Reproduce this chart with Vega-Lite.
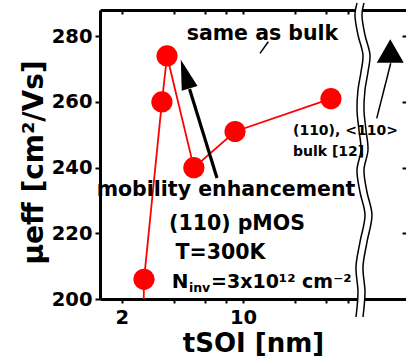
{
  "$schema": "https://vega.github.io/schema/vega-lite/v6.json",
  "width": 306,
  "height": 289,
  "autosize": "none",
  "padding": {"left": 100, "top": 10, "right": 0, "bottom": 62},
  "background": "white",
  "config": {"view": {"stroke": null}, "font": "DejaVu Sans"},
  "datasets": {
    "pts": [
      {"t": 2.64, "mu": 180},
      {"t": 2.69, "mu": 206},
      {"t": 3.41, "mu": 260},
      {"t": 3.65, "mu": 274},
      {"t": 5.21, "mu": 240},
      {"t": 9.0, "mu": 251},
      {"t": 32.1, "mu": 261}
    ],
    "thin": [
      {"x": 13.98, "y": 278.35, "x2": 12.52, "y2": 274.8},
      {"x": 70.9, "y": 271.8, "x2": 58.9, "y2": 255.0}
    ],
    "shaft": [
      {"x": 7.08, "y": 236.84, "x2": 4.92, "y2": 263.94}
    ],
    "head": [{"t": 4.645, "mu": 268.51}],
    "bulk": [{"t": 70.5, "mu": 275.5}],
    "tc": [
      {"t": 12.94, "mu": 278.86, "s": "same as bulk"},
      {"t": 7.98, "mu": 231.36, "s": "mobility enhancement"},
      {"t": 9.23, "mu": 221.0, "s": "(110) pMOS"},
      {"t": 7.42, "mu": 212.09, "s": "T=300K"}
    ],
    "tn": [{"t": 3.88, "mu": 203.25, "s": "N"}],
    "tl": [{"t": 6.54, "mu": 203.25, "s": "=3x10¹² cm⁻²"}],
    "ts": [
      {"t": 19.4, "mu": 249.94, "s": "(110), <110>"},
      {"t": 19.4, "mu": 243.54, "s": "bulk [12]"}
    ],
    "tsub": [{"t": 4.88, "mu": 202.22, "s": "inv"}],
    "brk": [
      {"i": 1, "y": 290.13, "xl": 45.34, "xm": 47.49, "xr": 49.74},
      {"i": 2, "y": 286.48, "xl": 44.15, "xm": 46.25, "xr": 48.44},
      {"i": 3, "y": 280.39, "xl": 45.94, "xm": 48.12, "xr": 50.41},
      {"i": 4, "y": 274.30, "xl": 49.09, "xm": 51.41, "xr": 53.86},
      {"i": 5, "y": 269.12, "xl": 47.80, "xm": 50.07, "xr": 52.46},
      {"i": 6, "y": 263.64, "xl": 45.94, "xm": 48.12, "xr": 50.41},
      {"i": 7, "y": 257.55, "xl": 45.34, "xm": 47.49, "xr": 49.74},
      {"i": 8, "y": 251.46, "xl": 46.55, "xm": 48.76, "xr": 51.08},
      {"i": 9, "y": 245.37, "xl": 47.80, "xm": 50.07, "xr": 52.46},
      {"i": 10, "y": 239.28, "xl": 45.34, "xm": 47.49, "xr": 49.74},
      {"i": 11, "y": 232.58, "xl": 47.17, "xm": 49.41, "xr": 51.76},
      {"i": 12, "y": 225.58, "xl": 50.41, "xm": 52.81, "xr": 55.31},
      {"i": 13, "y": 217.35, "xl": 47.17, "xm": 49.41, "xr": 51.76},
      {"i": 14, "y": 209.74, "xl": 44.74, "xm": 46.86, "xr": 49.09},
      {"i": 15, "y": 202.13, "xl": 45.94, "xm": 48.12, "xr": 50.41},
      {"i": 16, "y": 194.52, "xl": 44.74, "xm": 46.86, "xr": 49.09}
    ]
  },
  "resolve": {"axis": {"x": "independent", "y": "independent"}},
  "layer": [
    {
      "mark": {"type": "rule", "strokeDash": [12, 9], "strokeWidth": 2.5, "color": "black"},
      "encoding": {
        "y": {"datum": 274, "type": "quantitative", "scale": {"domain": [200, 288], "nice": false, "zero": false}, "axis": null}
      }
    },
    {
      "data": {"name": "pts"},
      "mark": {"type": "line", "color": "#ff0000", "strokeWidth": 1.8, "clip": true},
      "encoding": {
        "x": {
          "field": "t", "type": "quantitative",
          "scale": {"type": "log", "domain": [1.5, 86.85], "nice": false},
          "axis": {
            "orient": "bottom", "values": [2, 4, 6, 8, 10, 20, 30, 40],
            "labelExpr": "datum.value == 2 || datum.value == 10 ? format(datum.value, 'd') : ''",
            "labelFont": "DejaVu Sans", "labelFontWeight": "bold", "labelFontSize": 19.5, "labelColor": "black",
            "labelPadding": 5, "labelOverlap": false, "labelFlush": false,
            "tickSize": 4, "tickWidth": 2, "tickColor": "black",
            "domainColor": "black", "domainWidth": 3, "grid": false,
            "title": "tSOI [nm]", "titleFont": "DejaVu Sans", "titleFontWeight": "bold", "titleFontSize": 26,
            "titleColor": "black", "titlePadding": 4
          }
        },
        "y": {
          "field": "mu", "type": "quantitative",
          "scale": {"domain": [200, 288], "nice": false, "zero": false},
          "axis": {
            "orient": "left", "values": [200, 220, 240, 260, 280],
            "labelFont": "DejaVu Sans", "labelFontWeight": "bold", "labelFontSize": 19.5, "labelColor": "black",
            "labelPadding": 3, "labelFlush": false,
            "tickSize": 5, "tickWidth": 2, "tickColor": "black",
            "domainColor": "black", "domainWidth": 3, "grid": false,
            "title": "μeff [cm²/Vs]", "titleFont": "DejaVu Sans", "titleFontWeight": "bold", "titleFontSize": 28,
            "titleColor": "black", "titlePadding": 3, "titleY": 152
          }
        }
      }
    },
    {
      "data": {"name": "pts"},
      "mark": {"type": "circle", "color": "#ff0000", "opacity": 1, "size": 450, "clip": true},
      "encoding": {
        "x": {
          "field": "t", "type": "quantitative",
          "scale": {"type": "log", "domain": [1.5, 86.85], "nice": false},
          "axis": {
            "orient": "top", "values": [2, 4, 6, 8, 10, 20, 30, 40], "labels": false,
            "tickSize": -4, "tickWidth": 2, "tickColor": "black",
            "domainColor": "black", "domainWidth": 3, "grid": false, "title": null
          }
        },
        "y": {
          "field": "mu", "type": "quantitative",
          "scale": {"domain": [200, 288], "nice": false, "zero": false},
          "axis": {
            "orient": "right", "values": [200, 220, 240, 260, 280], "labels": false, "domain": false,
            "tickSize": 4, "tickWidth": 2, "tickColor": "black", "offset": -4, "grid": false, "title": null
          }
        }
      }
    },
    {
      "data": {"name": "thin"},
      "mark": {"type": "rule", "color": "black", "strokeWidth": 1.5},
      "encoding": {
        "x": {"field": "x", "type": "quantitative", "scale": {"type": "log", "domain": [1.5, 86.85], "nice": false}, "axis": null},
        "x2": {"field": "x2"},
        "y": {"field": "y", "type": "quantitative", "scale": {"domain": [200, 288], "nice": false, "zero": false}, "axis": null},
        "y2": {"field": "y2"}
      }
    },
    {
      "data": {"name": "shaft"},
      "mark": {"type": "rule", "color": "black", "strokeWidth": 3.2},
      "encoding": {
        "x": {"field": "x", "type": "quantitative", "scale": {"type": "log", "domain": [1.5, 86.85], "nice": false}, "axis": null},
        "x2": {"field": "x2"},
        "y": {"field": "y", "type": "quantitative", "scale": {"domain": [200, 288], "nice": false, "zero": false}, "axis": null},
        "y2": {"field": "y2"}
      }
    },
    {
      "data": {"name": "head"},
      "mark": {"type": "point", "shape": "M0,-1L0.55,1L-0.55,1Z", "filled": true, "color": "black", "opacity": 1, "size": 900, "angle": 343},
      "encoding": {
        "x": {"field": "t", "type": "quantitative", "scale": {"type": "log", "domain": [1.5, 86.85], "nice": false}, "axis": null},
        "y": {"field": "mu", "type": "quantitative", "scale": {"domain": [200, 288], "nice": false, "zero": false}, "axis": null}
      }
    },
    {
      "data": {"name": "tc"},
      "mark": {"type": "text", "font": "DejaVu Sans", "fontWeight": "bold", "fontSize": 20.5, "align": "center", "baseline": "alphabetic", "color": "black"},
      "encoding": {
        "x": {"field": "t", "type": "quantitative", "scale": {"type": "log", "domain": [1.5, 86.85], "nice": false}, "axis": null},
        "y": {"field": "mu", "type": "quantitative", "scale": {"domain": [200, 288], "nice": false, "zero": false}, "axis": null},
        "text": {"field": "s"}
      }
    },
    {
      "data": {"name": "tn"},
      "mark": {"type": "text", "font": "DejaVu Sans", "fontWeight": "bold", "fontSize": 20, "align": "left", "baseline": "alphabetic", "color": "black"},
      "encoding": {
        "x": {"field": "t", "type": "quantitative", "scale": {"type": "log", "domain": [1.5, 86.85], "nice": false}, "axis": null},
        "y": {"field": "mu", "type": "quantitative", "scale": {"domain": [200, 288], "nice": false, "zero": false}, "axis": null},
        "text": {"field": "s"}
      }
    },
    {
      "data": {"name": "tl"},
      "mark": {"type": "text", "font": "DejaVu Sans", "fontWeight": "bold", "fontSize": 19, "align": "left", "baseline": "alphabetic", "color": "black"},
      "encoding": {
        "x": {"field": "t", "type": "quantitative", "scale": {"type": "log", "domain": [1.5, 86.85], "nice": false}, "axis": null},
        "y": {"field": "mu", "type": "quantitative", "scale": {"domain": [200, 288], "nice": false, "zero": false}, "axis": null},
        "text": {"field": "s"}
      }
    },
    {
      "data": {"name": "tsub"},
      "mark": {"type": "text", "font": "DejaVu Sans", "fontWeight": "bold", "fontSize": 12.5, "align": "left", "baseline": "alphabetic", "color": "black"},
      "encoding": {
        "x": {"field": "t", "type": "quantitative", "scale": {"type": "log", "domain": [1.5, 86.85], "nice": false}, "axis": null},
        "y": {"field": "mu", "type": "quantitative", "scale": {"domain": [200, 288], "nice": false, "zero": false}, "axis": null},
        "text": {"field": "s"}
      }
    },
    {
      "data": {"name": "brk"},
      "mark": {"type": "line", "color": "white", "strokeWidth": 6.5, "interpolate": "catmull-rom"},
      "encoding": {
        "x": {"field": "xm", "type": "quantitative", "scale": {"type": "log", "domain": [1.5, 86.85], "nice": false}, "axis": null},
        "y": {"field": "y", "type": "quantitative", "scale": {"domain": [200, 288], "nice": false, "zero": false}, "axis": null},
        "order": {"field": "i"}
      }
    },
    {
      "data": {"name": "brk"},
      "mark": {"type": "line", "color": "black", "strokeWidth": 1.5, "interpolate": "catmull-rom"},
      "encoding": {
        "x": {"field": "xl", "type": "quantitative", "scale": {"type": "log", "domain": [1.5, 86.85], "nice": false}, "axis": null},
        "y": {"field": "y", "type": "quantitative", "scale": {"domain": [200, 288], "nice": false, "zero": false}, "axis": null},
        "order": {"field": "i"}
      }
    },
    {
      "data": {"name": "brk"},
      "mark": {"type": "line", "color": "black", "strokeWidth": 1.5, "interpolate": "catmull-rom"},
      "encoding": {
        "x": {"field": "xr", "type": "quantitative", "scale": {"type": "log", "domain": [1.5, 86.85], "nice": false}, "axis": null},
        "y": {"field": "y", "type": "quantitative", "scale": {"domain": [200, 288], "nice": false, "zero": false}, "axis": null},
        "order": {"field": "i"}
      }
    },
    {
      "data": {"name": "ts"},
      "mark": {"type": "text", "font": "DejaVu Sans", "fontWeight": "bold", "fontSize": 14, "align": "left", "baseline": "alphabetic", "color": "black"},
      "encoding": {
        "x": {"field": "t", "type": "quantitative", "scale": {"type": "log", "domain": [1.5, 86.85], "nice": false}, "axis": null},
        "y": {"field": "mu", "type": "quantitative", "scale": {"domain": [200, 288], "nice": false, "zero": false}, "axis": null},
        "text": {"field": "s"}
      }
    },
    {
      "data": {"name": "bulk"},
      "mark": {"type": "point", "shape": "triangle-up", "filled": true, "color": "black", "opacity": 1, "size": 729},
      "encoding": {
        "x": {"field": "t", "type": "quantitative", "scale": {"type": "log", "domain": [1.5, 86.85], "nice": false}, "axis": null},
        "y": {"field": "mu", "type": "quantitative", "scale": {"domain": [200, 288], "nice": false, "zero": false}, "axis": null}
      }
    }
  ]
}
